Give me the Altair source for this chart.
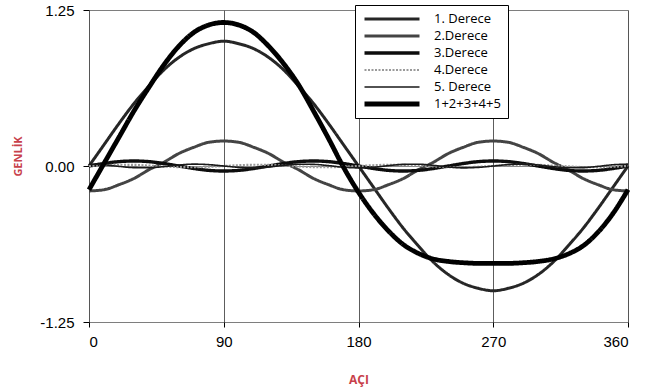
import altair as alt
import pandas as pd

# Angle samples (degrees) and the amplitude of each harmonic at those angles
angles = list(range(0, 361, 10))

h1 = [0.00, 0.17, 0.34, 0.50, 0.64, 0.77, 0.87, 0.94, 0.98, 1.00,
      0.98, 0.94, 0.87, 0.77, 0.64, 0.50, 0.34, 0.17, 0.00,
      -0.17, -0.34, -0.50, -0.64, -0.77, -0.87, -0.94, -0.98, -1.00,
      -0.98, -0.94, -0.87, -0.77, -0.64, -0.50, -0.34, -0.17, 0.00]

h2 = [-0.20, -0.19, -0.15, -0.10, -0.03, 0.03, 0.10, 0.15, 0.19, 0.20,
      0.19, 0.15, 0.10, 0.03, -0.03, -0.10, -0.15, -0.19, -0.20,
      -0.19, -0.15, -0.10, -0.03, 0.03, 0.10, 0.15, 0.19, 0.20,
      0.19, 0.15, 0.10, 0.03, -0.03, -0.10, -0.15, -0.19, -0.20]

h3 = [0.000, 0.020, 0.035, 0.040, 0.035, 0.020, 0.000, -0.020, -0.035, -0.040,
      -0.035, -0.020, 0.000, 0.020, 0.035, 0.040, 0.035, 0.020, 0.000,
      -0.020, -0.035, -0.040, -0.035, -0.020, 0.000, 0.020, 0.035, 0.040,
      0.035, 0.020, 0.000, -0.020, -0.035, -0.040, -0.035, -0.020, 0.000]

h4 = [0.000, 0.006, 0.010, 0.009, 0.003, -0.003, -0.009, -0.010, -0.006, 0.000,
      0.006, 0.010, 0.009, 0.003, -0.003, -0.009, -0.010, -0.006, 0.000,
      0.006, 0.010, 0.009, 0.003, -0.003, -0.009, -0.010, -0.006, 0.000,
      0.006, 0.010, 0.009, 0.003, -0.003, -0.009, -0.010, -0.006, 0.000]

h5 = [0.015, 0.010, -0.003, -0.013, -0.014, -0.005, 0.008, 0.015, 0.011, 0.000,
      -0.011, -0.015, -0.008, 0.005, 0.014, 0.013, 0.003, -0.010, -0.015,
      -0.010, 0.003, 0.013, 0.014, 0.005, -0.008, -0.015, -0.011, 0.000,
      0.011, 0.015, 0.008, -0.005, -0.014, -0.013, -0.003, 0.010, 0.015]

total = [-0.19, 0.02, 0.23, 0.44, 0.63, 0.81, 0.96, 1.07, 1.13, 1.15,
         1.13, 1.07, 0.96, 0.82, 0.65, 0.44, 0.22, -0.01, -0.21,
         -0.38, -0.52, -0.63, -0.70, -0.745, -0.765, -0.775, -0.78, -0.78,
         -0.78, -0.775, -0.765, -0.745, -0.705, -0.64, -0.53, -0.38, -0.19]

names = ["1. Derece", "2.Derece", "3.Derece", "4.Derece", "5. Derece", "1+2+3+4+5"]
series = [h1, h2, h3, h4, h5, total]

colors = ["#262626", "#444444", "#0d0d0d", "#9a9a9a", "#1a1a1a", "#000000"]
widths = [3.0, 3.0, 3.4, 2.2, 1.6, 4.8]
dashes = [[1, 0], [1, 0], [1, 0], [2, 1.5], [1, 0], [1, 0]]

rows = []
for name, vals in zip(names, series):
    for a, v in zip(angles, vals):
        rows.append({"angle": a, "value": v, "series": name})
df = pd.DataFrame(rows)

legend = alt.Legend(
    title=None,
    orient="none",
    legendX=266,
    legendY=-5,
    symbolType="stroke",
    symbolSize=3025,
    clipHeight=14,
    rowPadding=3,
    padding=7,
    labelFont="Open Sans",
    labelFontSize=13,
    labelColor="#000000",
    labelOffset=12,
    fillColor="#ffffff",
    strokeColor="#000000",
    labelLimit=90,
)

red = "#c8414b"

chart = alt.Chart(df).mark_line(interpolate="monotone").encode(
    x=alt.X(
        "angle:Q",
        scale=alt.Scale(domain=[0, 360], nice=False),
        axis=alt.Axis(
            values=[0, 90, 180, 270, 360],
            title="AÇI",
            titleColor=red,
            titleFont="Open Sans",
            titleFontSize=12,
            titleFontWeight="bold",
            titleY=57,
            titleBaseline="middle",
            labelFont="Liberation Sans",
            labelFontSize=15,
            labelColor="#000000",
            labelPadding=7,
            tickSize=5,
            tickColor="#000000",
            domain=False,
            grid=True,
            gridColor="#333333",
            gridWidth=0.8,
        ),
    ),
    y=alt.Y(
        "value:Q",
        scale=alt.Scale(domain=[-1.25, 1.25], nice=False),
        axis=alt.Axis(
            values=[-1.25, 0, 1.25],
            format=".2f",
            labelExpr="replace(datum.label, '\u2212', '-')",
            title="GENLİK",
            titleColor=red,
            titleFont="Open Sans",
            titleFontSize=11,
            titleFontWeight="bold",
            titleAngle=270,
            titleAlign="center",
            titleBaseline="middle",
            titleX=-71,
            titleY=146,
            labelFont="Liberation Sans",
            labelFontSize=15,
            labelColor="#000000",
            labelPadding=9,
            tickSize=6,
            tickColor="#000000",
            domain=False,
            grid=True,
            gridColor="#555555",
            gridWidth=0.7,
        ),
    ),
    color=alt.Color("series:N", scale=alt.Scale(domain=names, range=colors), legend=legend),
    strokeWidth=alt.StrokeWidth(
        "series:N", scale=alt.Scale(type="ordinal", domain=names, range=widths), legend=legend
    ),
    strokeDash=alt.StrokeDash("series:N", scale=alt.Scale(domain=names, range=dashes), legend=legend),
).properties(
    width=539,
    height=312,
    autosize=alt.AutoSizeParams(type="none"),
    padding={"left": 89, "top": 10, "right": 21, "bottom": 70},
).configure_view(
    stroke="#000000",
    strokeWidth=1.2,
).configure(background="#ffffff")

chart.save("out.html", embed_options={"renderer": "svg", "actions": False})
